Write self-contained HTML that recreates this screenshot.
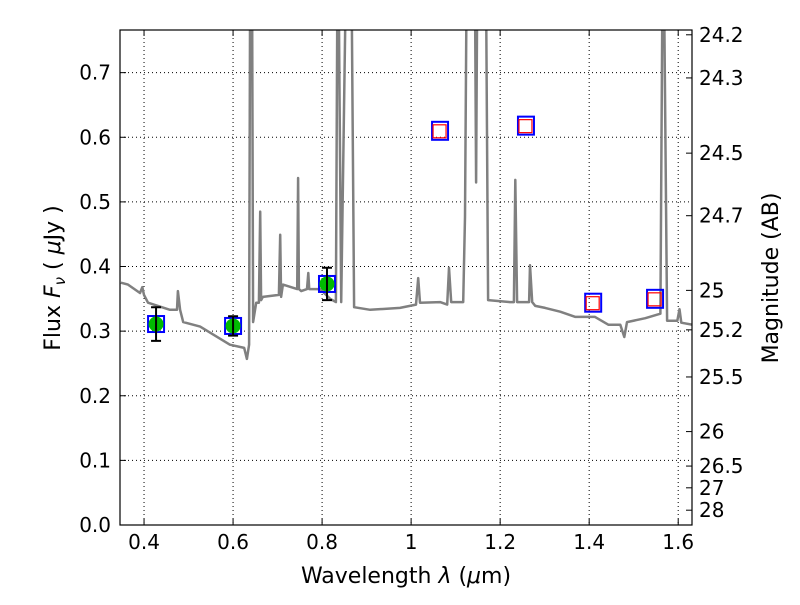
<!DOCTYPE html>
<html><head><meta charset="utf-8"><style>
body{margin:0;background:#fff;}
svg text{font-family:"DejaVu Sans","Liberation Sans",sans-serif;fill:#000;}
</style></head><body>
<svg id="chart" width="800" height="600" xmlns="http://www.w3.org/2000/svg">
<rect width="800" height="600" fill="#fff"/>
<g id="grid"></g>
<g id="spec"></g>
<g id="marks"></g>
<rect x="120" y="30" width="572" height="495" fill="none" stroke="#000" stroke-width="1.2"/>
<g id="axes"></g>
<text x="406" y="583" font-size="22" text-anchor="middle">Wavelength  <tspan font-style="italic">λ</tspan> (<tspan font-style="italic">μ</tspan>m)</text>
<text transform="translate(60,278) rotate(-90)" font-size="22" text-anchor="middle">Flux  <tspan font-style="italic">F</tspan><tspan font-style="italic" font-size="15" dy="5">ν</tspan><tspan dy="-5">  ( </tspan><tspan font-style="italic">μ</tspan>Jy )</text>
<text transform="translate(778,278) rotate(-90)" font-size="22" text-anchor="middle">Magnitude (AB)</text>
</svg>
<script>
const xTicks=[0.4,0.6,0.8,1.0,1.2,1.4,1.6];
const xTickLabels=["0.4","0.6","0.8","1","1.2","1.4","1.6"];
const yTicks=[0,0.1,0.2,0.3,0.4,0.5,0.6,0.7];
const yTickLabels=["0.0","0.1","0.2","0.3","0.4","0.5","0.6","0.7"];
const magTicks=[24.2,24.3,24.5,24.7,25,25.2,25.5,26,26.5,27,28];
const magTickLabels=["24.2","24.3","24.5","24.7","25","25.2","25.5","26","26.5","27","28"];
const specWave=[0.348,0.364,0.391,0.396,0.400,0.409,0.458,0.474,0.476,0.481,0.488,0.526,0.593,0.625,0.631,0.636,0.638,0.643,0.645,0.652,0.658,0.661,0.663,0.667,0.703,0.706,0.708,0.712,0.744,0.746,0.748,0.753,0.766,0.769,0.771,0.796,0.818,0.831,0.834,0.838,0.843,0.852,0.867,0.872,0.908,0.975,1.011,1.016,1.020,1.065,1.081,1.085,1.090,1.117,1.121,1.124,1.144,1.146,1.148,1.169,1.173,1.222,1.231,1.234,1.238,1.265,1.267,1.272,1.279,1.301,1.335,1.369,1.413,1.443,1.470,1.479,1.485,1.526,1.560,1.564,1.569,1.575,1.598,1.603,1.607,1.631];
const specFlux=[0.375,0.372,0.359,0.368,0.356,0.344,0.333,0.333,0.362,0.333,0.314,0.307,0.279,0.274,0.257,0.279,0.77,0.77,0.314,0.344,0.344,0.485,0.348,0.353,0.356,0.449,0.353,0.372,0.365,0.537,0.365,0.362,0.365,0.390,0.365,0.365,0.350,0.345,0.77,0.77,0.345,0.77,0.77,0.337,0.333,0.336,0.341,0.382,0.344,0.345,0.341,0.398,0.345,0.345,0.477,0.77,0.77,0.530,0.77,0.77,0.348,0.345,0.345,0.534,0.345,0.345,0.402,0.345,0.339,0.336,0.330,0.322,0.322,0.310,0.310,0.291,0.314,0.320,0.327,0.77,0.77,0.316,0.316,0.334,0.313,0.310];
const detWave=[0.427,0.600,0.811];
const detFlux=[0.311,0.308,0.373];
const detErr=[0.026,0.015,0.025];
const limWave=[1.065,1.258,1.409,1.548];
const limFlux=[0.610,0.618,0.344,0.350];
const X0=120,X1=692,Y0=525,Y1=30,XMIN=0.346,XMAX=1.631,YMIN=0,YMAX=0.766;
const sx=v=>X0+(v-XMIN)/(XMAX-XMIN)*(X1-X0);
const sy=v=>Y0-(v-YMIN)/(YMAX-YMIN)*(Y0-Y1);
const magToFlux=m=>Math.pow(10,(23.9-m)/2.5);
const NS="http://www.w3.org/2000/svg";
function mk(tag,attrs,parent){const e=document.createElementNS(NS,tag);for(const k in attrs)e.setAttribute(k,attrs[k]);parent.appendChild(e);return e;}
const grid=document.getElementById('grid'),axes=document.getElementById('axes'),spec=document.getElementById('spec'),marks=document.getElementById('marks');
xTicks.forEach((t,i)=>{const x=sx(t);
 const g=mk('line',{x1:x,x2:x,y1:Y1,y2:Y0,stroke:'#000','stroke-width':1,'stroke-dasharray':'1,3'},grid);
 
 mk('line',{x1:x,x2:x,y1:Y0,y2:Y0-6,stroke:'#000'},axes);mk('line',{x1:x,x2:x,y1:Y1,y2:Y1+6,stroke:'#000'},axes);
 const tx=mk('text',{x:x,y:Y0+24,'font-size':20,'text-anchor':'middle'},axes);tx.textContent=xTickLabels[i];
 });
yTicks.forEach((t,i)=>{const y=sy(t);
 const g=mk('line',{x1:X0,x2:X1,y1:y,y2:y,stroke:'#000','stroke-width':1,'stroke-dasharray':'1,3'},grid);
 
 mk('line',{x1:X0,x2:X0+6,y1:y,y2:y,stroke:'#000'},axes);
 const tx=mk('text',{x:X0-9,y:y+7,'font-size':20,'text-anchor':'end'},axes);tx.textContent=yTickLabels[i];
 });
magTicks.forEach((m,i)=>{const y=sy(magToFlux(m));
 mk('line',{x1:X1-6,x2:X1,y1:y,y2:y,stroke:'#000'},axes);
 const tx=mk('text',{x:X1+7,y:y+7,'font-size':20},axes);tx.textContent=magTickLabels[i];
 });
const cl=mk('clipPath',{id:'clip'},spec);mk('rect',{x:X0,y:Y1,width:X1-X0,height:Y0-Y1},cl);
const pl=mk('polyline',{points:specWave.map((w,i)=>sx(w).toFixed(1)+','+sy(specFlux[i]).toFixed(1)).join(' '),fill:'none',stroke:'#808080','stroke-width':2.5,'clip-path':'url(#clip)','stroke-linejoin':'round'},spec);

detWave.forEach((w,i)=>{const x=sx(w),y=sy(detFlux[i]);
 const b=mk('rect',{x:x-8,y:y-8,width:16,height:16,fill:'none',stroke:'#0000ff','stroke-width':2},marks);
 
 const c=mk('circle',{cx:x,cy:y,r:7.5,fill:'#00bb00'},marks);
 
 const yt=sy(detFlux[i]+detErr[i]),yb=sy(detFlux[i]-detErr[i]);
 const e=mk('path',{d:`M${x},${yt}V${yb}M${x-5},${yt}H${x+5}M${x-5},${yb}H${x+5}`,stroke:'#000','stroke-width':2,fill:'none'},marks);
 });
limWave.forEach((w,i)=>{const x=sx(w),y=sy(limFlux[i]);
 const b=mk('rect',{x:x-8,y:y-9,width:16,height:18,fill:'none',stroke:'#0000ff','stroke-width':2},marks);
 
 const r=mk('rect',{x:x-7,y:y-6,width:13,height:13,fill:'none',stroke:'#ff0000','stroke-width':1.2},marks);
 });
</script>
</body></html>
